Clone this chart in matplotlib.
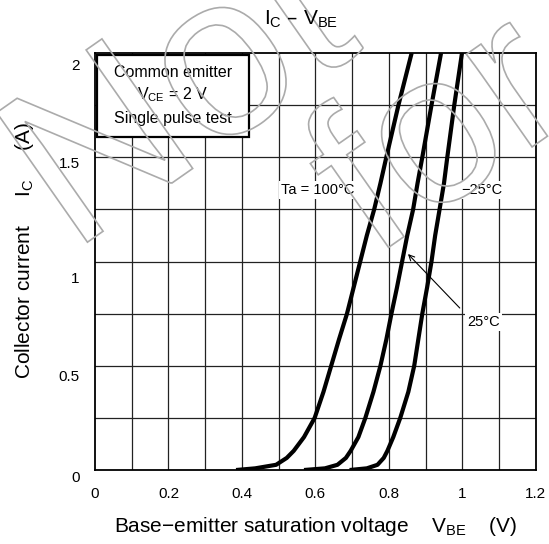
import matplotlib
matplotlib.use('Agg')
from matplotlib import pyplot as plt
from matplotlib.patches import Rectangle, PathPatch
from matplotlib.textpath import TextPath
from matplotlib.font_manager import FontProperties
from matplotlib.transforms import Affine2D, ScaledTranslation

plt.rcParams['font.family'] = ['Liberation Sans', 'DejaVu Sans']
plt.rcParams['mathtext.default'] = 'regular'

# Data: V_BE (V) vs I_C (A)
ic_pts = [0.0, 0.008, 0.025, 0.058, 0.092, 0.158, 0.25, 0.375, 0.5, 0.625, 0.75, 0.875,
          1.0, 1.125, 1.25, 1.375, 1.5, 1.75, 2.0]
vbe_100 = [0.384, 0.436, 0.493, 0.522, 0.541, 0.569, 0.598, 0.622, 0.643, 0.664, 0.686, 0.704,
           0.722, 0.740, 0.760, 0.777, 0.793, 0.826, 0.862]
vbe_25 = [0.569, 0.626, 0.660, 0.683, 0.696, 0.717, 0.736, 0.758, 0.777, 0.793, 0.807, 0.822,
          0.836, 0.850, 0.866, 0.878, 0.891, 0.916, 0.942]
vbe_m25 = [0.693, 0.740, 0.769, 0.786, 0.796, 0.812, 0.831, 0.853, 0.869, 0.880, 0.891, 0.904,
           0.916, 0.926, 0.938, 0.950, 0.959, 0.978, 0.999]

xticks = [0, 0.2, 0.4, 0.6, 0.8, 1.0, 1.2]
xticklabels = ['0', '0.2', '0.4', '0.6', '0.8', '1', '1.2']
yticks = [0, 0.5, 1.0, 1.5, 2.0]
yticklabels = ['0', '0.5', '1', '1.5', '2']

fig = plt.figure(figsize=(5.49, 5.44), dpi=100)
ax = fig.add_axes([0.173, 0.136, 0.803, 0.7665])

# grid every 0.1 V / 0.25 A
for v in [i * 0.1 for i in range(1, 12)]:
    ax.axvline(v, color='#222222', lw=0.9, zorder=1)
for c in [i * 0.25 for i in range(1, 8)]:
    ax.axhline(c, color='#222222', lw=0.9, zorder=1)

for vbe in (vbe_100, vbe_25, vbe_m25):
    ax.plot(vbe, ic_pts, color='black', lw=3, zorder=3,
            solid_joinstyle='round', solid_capstyle='butt')

ax.set_xlim(0, 1.2)
ax.set_ylim(0, 2)
ax.set_xticks(xticks)
ax.set_xticklabels(xticklabels)
ax.set_yticks(yticks)
ax.set_yticklabels(yticklabels)
ax.tick_params(length=0, labelsize=11, pad=12)
ax.tick_params(axis='y', pad=11)
for s in ax.spines.values():
    s.set_linewidth(1.3)

# y tick labels sit a little below their grid lines in the original
for lab, dy in zip(ax.get_yticklabels(), [6, 10, 16, 5, 11]):
    lab.set_transform(lab.get_transform() + ScaledTranslation(0, -dy / 100, fig.dpi_scale_trans))

ax.set_xlabel('Base\u2212emitter saturation voltage    $V_{BE}$    (V)', fontsize=15)
ax.xaxis.set_label_coords(0.5, -0.108)
ax.set_ylabel('Collector current     $I_C$     (A)', fontsize=15)
ax.yaxis.set_label_coords(-0.161, 0.525)
ax.yaxis.label.set_va('center')

fig.text(301 / 549, 1 - 19 / 544, '$I_C$ \u2013 $V_{BE}$', fontsize=15, ha='center', va='center')

# condition box
ax.add_patch(Rectangle((0.005, 1.597), 0.414, 0.393, facecolor='white', edgecolor='black', lw=1.6, zorder=4))
ax.text(0.212, 1.909, 'Common emitter', fontsize=11.5, ha='center', va='center', zorder=5)
ax.text(0.212, 1.799, '$V_{CE}$ = 2 V', fontsize=11.5, ha='center', va='center', zorder=5)
ax.text(0.212, 1.688, 'Single pulse test', fontsize=11.5, ha='center', va='center', zorder=5)

box = dict(facecolor='white', edgecolor='none', pad=1.5)
ax.text(0.607, 1.343, 'Ta = 100\u00b0C', fontsize=10.5, ha='center', va='center', bbox=box, zorder=2)
ax.text(1.053, 1.343, '\u221225\u00b0C', fontsize=10.5, ha='center', va='center', bbox=box, zorder=2)
ax.text(1.058, 0.71, '25\u00b0C', fontsize=10.5, ha='center', va='center', bbox=box, zorder=2)
ax.annotate('', xy=(0.852, 1.036), xytext=(0.993, 0.777),
            arrowprops=dict(arrowstyle='->', lw=0.8, color='black', shrinkA=0, shrinkB=0), zorder=2)

# outlined watermark
wm_font = FontProperties(family='Liberation Sans')
tp1 = TextPath((0, 0), 'Not', size=230, prop=wm_font)
tp2 = TextPath((0, 0), 'for', size=215, prop=wm_font)
wm1 = Affine2D().rotate_deg(35).translate(72, 291)
wm2 = Affine2D().translate(-120, -58).rotate_deg(35).translate(438, 402)
for tp, tr in ((tp1, wm1), (tp2, wm2)):
    fig.add_artist(PathPatch(tp, transform=tr, facecolor='none', edgecolor='#ababab', lw=1.2, zorder=0.5))

fig.savefig('out.png', dpi=100)
